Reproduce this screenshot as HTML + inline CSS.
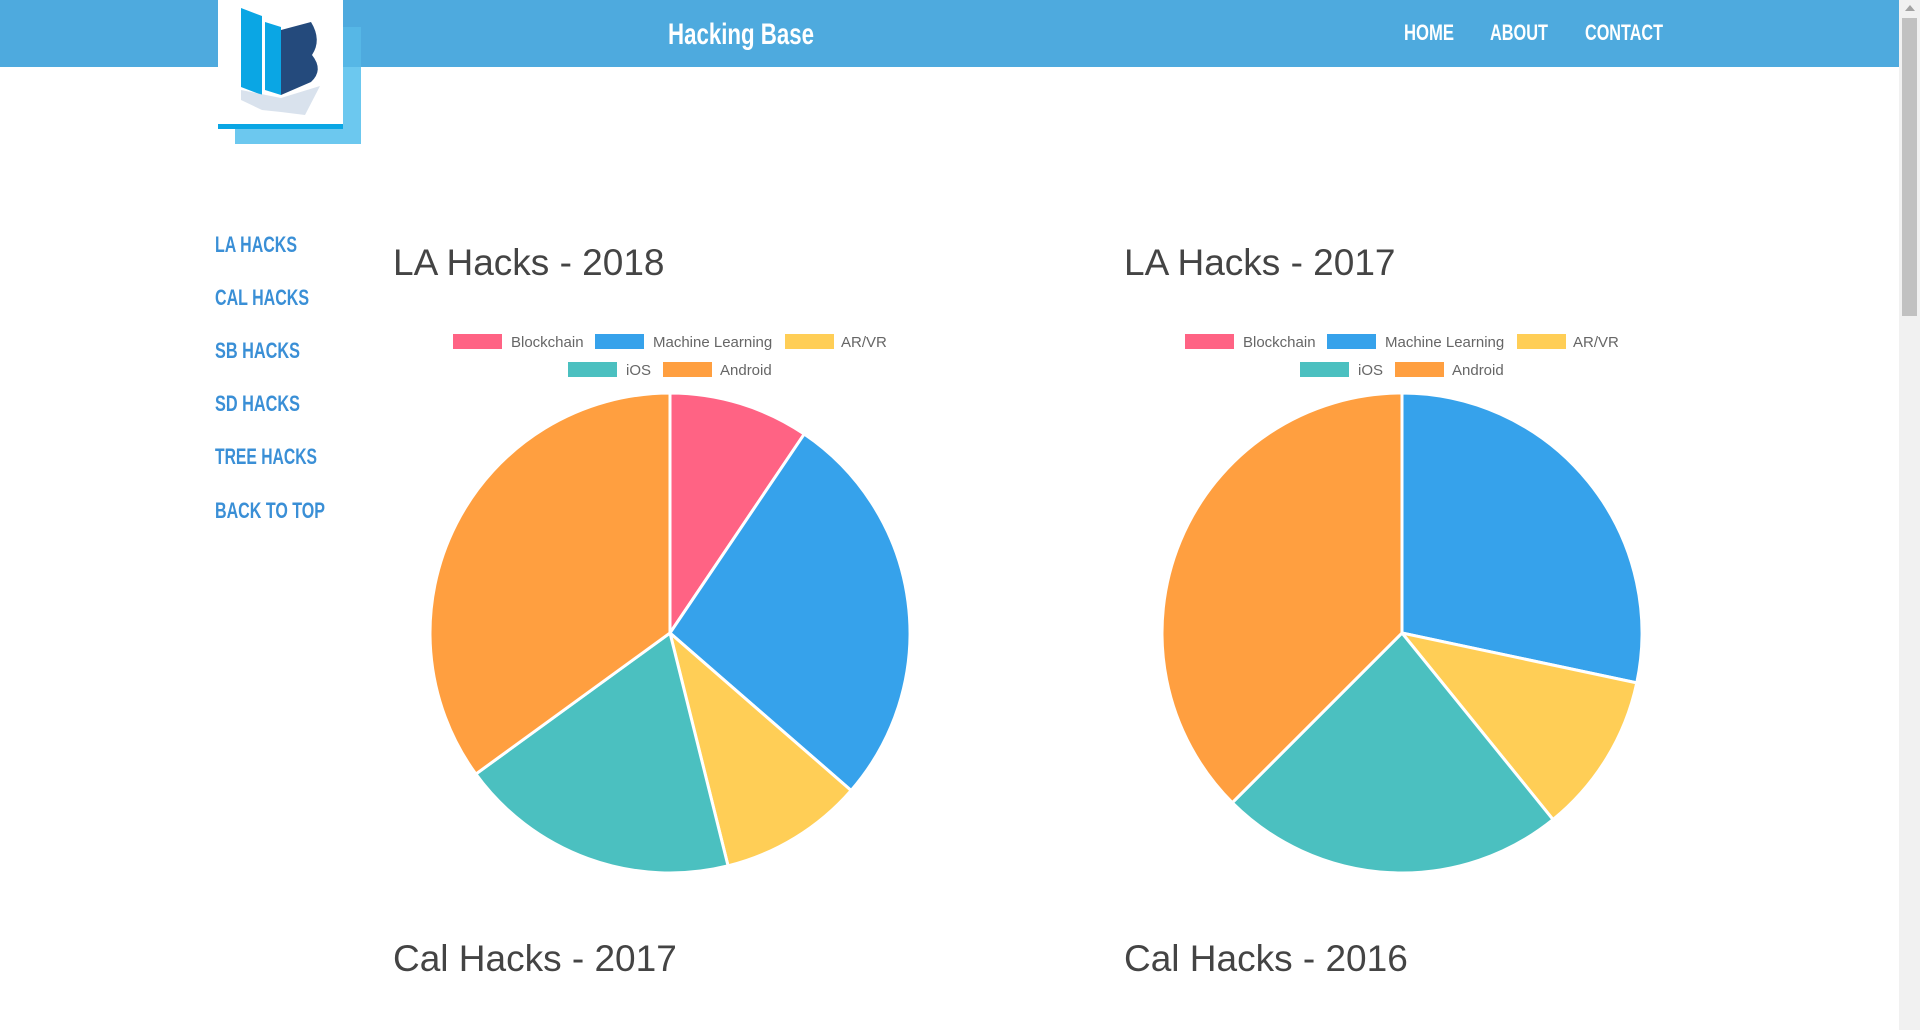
<!DOCTYPE html>
<html><head><meta charset="utf-8"><style>
html,body{margin:0;padding:0;width:1920px;height:1030px;overflow:hidden;background:#fff;font-family:"Liberation Sans",sans-serif}
svg text{font-family:"Liberation Sans",sans-serif}
</style></head><body>
<svg id="root" width="1920" height="1030" xmlns="http://www.w3.org/2000/svg">
<rect x="0" y="0" width="1899" height="67" fill="#4eaade"/>
<g>
<rect x="235" y="27" width="126" height="117" fill="#6cc8ef"/>
<rect x="343" y="27" width="18" height="40" fill="#56b7e6"/>
<rect x="218" y="0" width="125" height="124" fill="#fff"/>
<rect x="218" y="124" width="125" height="5" fill="#0aa6e4"/>
<polygon points="241,8 262,16 262,95 241,87" fill="#0aa6e4"/>
<polygon points="265,22 281,27 281,95 265,90" fill="#0aa6e4"/>
<path d="M281,30 L311,22 Q322,40 312,55 Q324,70 311,82 L281,95 Z" fill="#244a7c"/>
<polygon points="241,90 281,98 320,86 305,115 281,112 262,110 241,100" fill="#c9d6e6" opacity="0.7"/>
</g>
<text x="741" y="44" text-anchor="middle" font-size="30" font-weight="bold" fill="#fff" textLength="146" lengthAdjust="spacingAndGlyphs">Hacking Base</text>
<g font-size="22" font-weight="bold" fill="#fff">
<text x="1404" y="40" textLength="50" lengthAdjust="spacingAndGlyphs">HOME</text>
<text x="1490" y="40" textLength="58" lengthAdjust="spacingAndGlyphs">ABOUT</text>
<text x="1585" y="40" textLength="78" lengthAdjust="spacingAndGlyphs">CONTACT</text>
</g>
<g font-size="22" font-weight="bold" fill="#3a8fd6">
<text x="215" y="252" textLength="82" lengthAdjust="spacingAndGlyphs">LA HACKS</text>
<text x="215" y="305" textLength="94" lengthAdjust="spacingAndGlyphs">CAL HACKS</text>
<text x="215" y="358" textLength="85" lengthAdjust="spacingAndGlyphs">SB HACKS</text>
<text x="215" y="411" textLength="85" lengthAdjust="spacingAndGlyphs">SD HACKS</text>
<text x="215" y="464" textLength="102" lengthAdjust="spacingAndGlyphs">TREE HACKS</text>
<text x="215" y="518" textLength="110" lengthAdjust="spacingAndGlyphs">BACK TO TOP</text>
</g>
<g font-size="37" fill="#444">
<text x="393" y="275">LA Hacks - 2018</text>
<text x="1124" y="275">LA Hacks - 2017</text>
<text x="393" y="971">Cal Hacks - 2017</text>
<text x="1124" y="971">Cal Hacks - 2016</text>
</g>
<g id="charts"></g>
<rect x="1899" y="0" width="21" height="1030" fill="#f1f1f1"/>
<rect x="1902" y="18" width="15" height="298" fill="#c1c1c1"/>
<polygon points="1905,11 1910,5 1915,11" fill="#a3a3a3"/>
</svg>
<script>
const categories = ["Blockchain","Machine Learning","AR/VR","iOS","Android"];
const colors = ["#ff6384","#36a2eb","#ffce56","#4bc0c0","#ff9f40"];
const la2018Values = [34, 97, 35, 68, 126];
const la2017Values = [0, 102, 39, 84, 135];
const NS = "http://www.w3.org/2000/svg";
const root = document.getElementById("charts");
function mk(tag, attrs, parent){const e=document.createElementNS(NS,tag);for(const k in attrs)e.setAttribute(k,attrs[k]);parent.appendChild(e);return e;}
function angleScale(values){const t=values.reduce((a,b)=>a+b,0);return v=>v/t*Math.PI*2;}
function drawPie(values, ox, name){
  const g = mk("g",{},root);
  
  
  const row1=[[453,511],[595,653],[785,841]], row2=[[568,626],[663,720]];
  const pos=[row1[0],row1[1],row1[2],row2[0],row2[1]];
  categories.forEach((c,i)=>{
    const y = i<3 ? 334 : 362;
    const lg = mk("g",{},g);
    
    
    mk("rect",{x:pos[i][0]+ox,y:y,width:49,height:15,fill:colors[i]},lg);
    const t=mk("text",{x:pos[i][1]+ox,y:y+13,"font-size":15,fill:"#666"},lg);
    t.textContent=c;
  });
  const cx=670+ox, cy=633, r=240;
  const sc=angleScale(values);
  let a=-Math.PI/2;
  values.forEach((v,i)=>{
    const d=sc(v); if(d<=0) return;
    const a2=a+d;
    const x1=cx+r*Math.cos(a),y1=cy+r*Math.sin(a),x2=cx+r*Math.cos(a2),y2=cy+r*Math.sin(a2);
    const p=mk("path",{d:`M${cx},${cy} L${x1},${y1} A${r},${r} 0 ${d>Math.PI?1:0} 1 ${x2},${y2} Z`,fill:colors[i],stroke:"#fff","stroke-width":3,"stroke-linejoin":"round"},g);
    
    
    a=a2;
  });
}
drawPie(la2018Values, 0, "pie-la-2018");
drawPie(la2017Values, 732, "pie-la-2017");
</script>
</body></html>
